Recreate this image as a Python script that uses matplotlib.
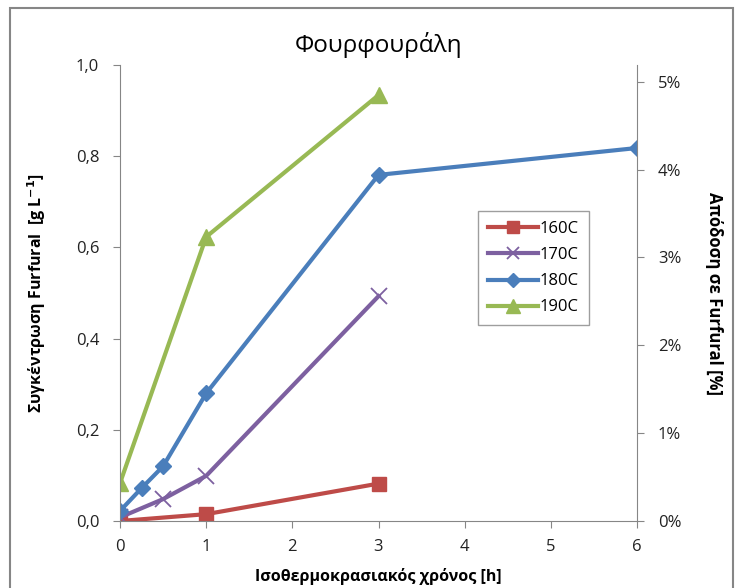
import matplotlib
matplotlib.use("Agg")
import matplotlib.pyplot as plt
from matplotlib.patches import Rectangle
from matplotlib.ticker import FuncFormatter

plt.rcParams['font.family'] = ['Open Sans', 'DejaVu Sans']

# Ισοθερμοκρασιακός χρόνος [h] και συγκέντρωση furfural [g/L]
t_160 = [0, 1, 3]
c_160 = [0.0, 0.015, 0.082]

t_170 = [0, 0.5, 1, 3]
c_170 = [0.008, 0.048, 0.099, 0.493]

t_180 = [0, 0.25, 0.5, 1, 3, 6]
c_180 = [0.022, 0.072, 0.12, 0.28, 0.759, 0.818]

t_190 = [0, 1, 3]
c_190 = [0.083, 0.623, 0.934]

x_ticks = [0, 1, 2, 3, 4, 5, 6]
y_ticks = [0.0, 0.2, 0.4, 0.6, 0.8, 1.0]
y2_ticks = [0, 1, 2, 3, 4, 5]

grey = '#868686'

fig = plt.figure(figsize=(7.4, 5.88), dpi=100)
ax = fig.add_axes([120 / 740, 1 - 521 / 588, 517 / 740, 456 / 588])

# πλαίσιο γραφήματος
fig.patches.append(Rectangle((10 / 740, -0.1), 723 / 740, 1.1 - 8 / 588,
                             transform=fig.transFigure, fill=False,
                             edgecolor=grey, linewidth=1.5))

ax.plot(t_160, c_160, color='#BE4B48', lw=3, marker='s', ms=10, label='160C')
ax.plot(t_170, c_170, color='#7D60A0', lw=3, marker='x', ms=11, mew=1.3,
        label='170C')
ax.plot(t_180, c_180, color='#4A7EBB', lw=3, marker='D', ms=8, label='180C')
ax.plot(t_190, c_190, color='#98B954', lw=3, marker='^', ms=12, label='190C')

ax.set_xlim(0, 6)
ax.set_ylim(0, 1.0)
ax.set_xticks(x_ticks)
ax.set_yticks(y_ticks)
ax.yaxis.set_major_formatter(FuncFormatter(lambda v, p: f'{v:.1f}'.replace('.', ',')))

for s in ['top', 'right']:
    ax.spines[s].set_visible(False)
for s in ['left', 'bottom']:
    ax.spines[s].set_color(grey)
ax.tick_params(axis='both', colors=grey, labelcolor='#222222', labelsize=12,
               length=5, direction='out')
ax.tick_params(axis='x', pad=8)
ax.tick_params(axis='y', pad=10)

# δεύτερος άξονας: απόδοση σε furfural
ax2 = ax.twinx()
ax2.set_ylim(0, 5.19)
ax2.set_yticks(y2_ticks)
ax2.yaxis.set_major_formatter(FuncFormatter(lambda v, p: f'{v:.0f}%'))
for s in ['top', 'left', 'bottom']:
    ax2.spines[s].set_visible(False)
ax2.spines['right'].set_color(grey)
ax2.tick_params(axis='y', colors=grey, labelcolor='#222222', labelsize=12,
                length=5, pad=10)

ax.set_title('Φουρφουράλη', fontsize=17.5, pad=9)
ax.set_xlabel('Ισοθερμοκρασιακός χρόνος [h]', fontsize=11.5, fontweight='bold',
              labelpad=9)
ax.set_ylabel('Συγκέντρωση Furfural  [g L$^{\\mathbf{-1}}$]', fontsize=11.5,
              fontweight='bold', labelpad=20)
ax2.set_ylabel('Απόδοση σε Furfural [%]', fontsize=12, fontweight='bold',
               rotation=-90, labelpad=30)

leg = ax.legend(loc='upper left', bbox_to_anchor=(350 / 517, 318 / 456),
                fontsize=12, frameon=True, fancybox=False, handlelength=3.0,
                borderpad=0.6, labelspacing=0.6, handletextpad=0.1,
                markerscale=0.85)
leg.get_frame().set_edgecolor(grey)
leg.get_frame().set_linewidth(1)

fig.savefig('out.png', dpi=100)
